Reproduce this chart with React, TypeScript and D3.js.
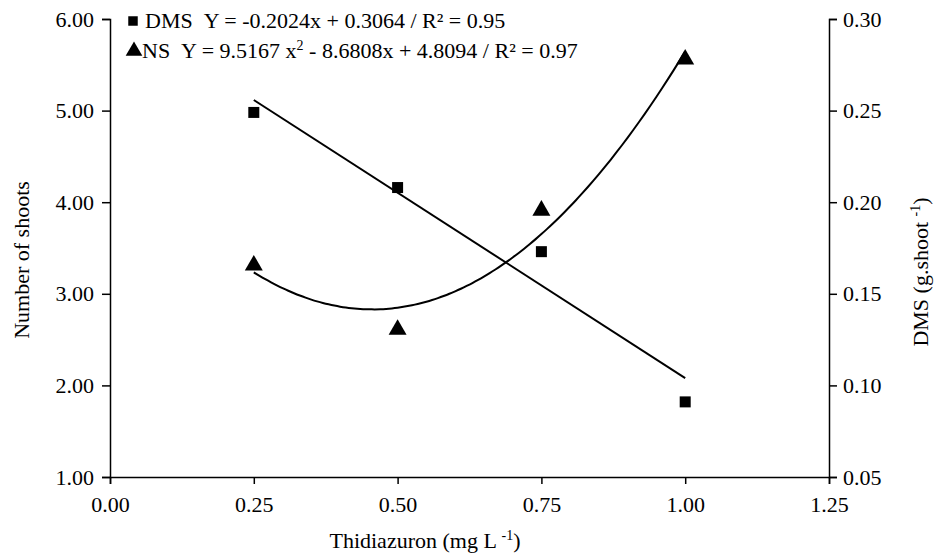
import React, { useEffect, useRef } from "react";
import * as d3 from "d3";

// doses of thidiazuron (mg L-1)
const doses = [0.25, 0.5, 0.75, 1.0];
// number of shoots (left axis)
const nsValues = [3.31, 2.61, 3.91, 5.56];
// dry mass per shoot (right axis)
const dmsValues = [0.249, 0.208, 0.173, 0.091];

// fitted equations printed in the legend
const nsCoef = [9.5167, -8.6808, 4.8094]; // a x^2 + b x + c
const dmsCoef = [-0.2024, 0.3064]; // a x + b

const xTicks = [0, 0.25, 0.5, 0.75, 1.0, 1.25];
const leftTicks = [1, 2, 3, 4, 5, 6];
const rightTicks = [0.05, 0.1, 0.15, 0.2, 0.25, 0.3];

const W = 935;
const H = 553;

export default function App() {
  const svgRef = useRef<SVGSVGElement>(null);

  useEffect(() => {
    const svg = d3.select(svgRef.current);
    svg.selectAll("*").remove();

    const m = { left: 110, right: 106, top: 19, bottom: 76 };
    const font = "'Liberation Serif', 'Times New Roman', Times, 'DejaVu Serif', serif";
    const fs = 22;

    const x = d3.scaleLinear().domain([0, 1.25]).range([m.left, W - m.right]);
    const yL = d3.scaleLinear().domain([1, 6]).range([H - m.bottom, m.top]);
    const yR = d3.scaleLinear().domain([0.05, 0.3]).range([H - m.bottom, m.top]);

    const styleAxis = (g: any) => {
      g.attr("font-family", null).attr("font-size", null);
      g.selectAll(".domain").attr("stroke", "#000").attr("stroke-width", 1.5);
      g.selectAll(".tick line").attr("stroke", "#000").attr("stroke-width", 1.5);
      g.selectAll(".tick text").attr("fill", "#000");
    };

    const root = svg
      .append("g")
      .style("font-family", font)
      .style("font-size", fs + "px");

    // X axis
    root
      .append("g")
      .attr("transform", `translate(0,${H - m.bottom})`)
      .call(
        d3
          .axisBottom(x)
          .tickValues(xTicks)
          .tickFormat(d3.format(".2f"))
          .tickSizeOuter(0)
          .tickSize(7)
          .tickPadding(12)
      )
      .call(styleAxis);

    // Left axis
    root
      .append("g")
      .attr("transform", `translate(${m.left},0)`)
      .call(
        d3
          .axisLeft(yL)
          .tickValues(leftTicks)
          .tickFormat(d3.format(".2f"))
          .tickSizeOuter(0)
          .tickSize(8)
          .tickPadding(8)
      )
      .call(styleAxis);

    // Right axis
    root
      .append("g")
      .attr("transform", `translate(${W - m.right},0)`)
      .call(
        d3
          .axisRight(yR)
          .tickValues(rightTicks)
          .tickFormat(d3.format(".2f"))
          .tickSizeOuter(0)
          .tickSize(8)
          .tickPadding(6)
      )
      .call(styleAxis);

    // Axis titles
    root
      .append("text")
      .attr("x", 425)
      .attr("y", H - 5)
      .attr("text-anchor", "middle")
      .html('Thidiazuron (mg L <tspan dy="-8" font-size="14">-1</tspan><tspan dy="8">)</tspan>');

    root
      .append("text")
      .attr("transform", `translate(29,260) rotate(-90)`)
      .attr("text-anchor", "middle")
      .text("Number of shoots");

    root
      .append("text")
      .attr("transform", `translate(928,272) rotate(-90)`)
      .attr("text-anchor", "middle")
      .html('DMS (g.shoot <tspan dy="-8" font-size="14">-1</tspan><tspan dy="8">)</tspan>');

    // Fitted curves
    const fitXs = d3.range(0.25, 1.0001, 0.01);
    const nsLine = d3
      .line<number>()
      .x((d) => x(d))
      .y((d) => yL(nsCoef[0] * d * d + nsCoef[1] * d + nsCoef[2]))
      .curve(d3.curveMonotoneX);
    const dmsLine = d3
      .line<number>()
      .x((d) => x(d))
      .y((d) => yR(dmsCoef[0] * d + dmsCoef[1]));

    root
      .append("path")
      .datum(fitXs)
      .attr("d", nsLine)
      .attr("fill", "none")
      .attr("stroke", "#000")
      .attr("stroke-width", 2);
    root
      .append("path")
      .datum([0.25, 1.0])
      .attr("d", dmsLine)
      .attr("fill", "none")
      .attr("stroke", "#000")
      .attr("stroke-width", 2);

    // markers
    const sq = d3.symbol().type(d3.symbolSquare).size(121);
    const tri = d3.symbol().type(d3.symbolTriangle).size(140);

    root
      .selectAll(".dms")
      .data(doses)
      .enter()
      .append("path")
      .attr("d", sq)
      .attr("transform", (d, i) => `translate(${x(d)},${yR(dmsValues[i])})`)
      .attr("fill", "#000");

    root
      .selectAll(".ns")
      .data(doses)
      .enter()
      .append("path")
      .attr("d", tri)
      .attr("transform", (d, i) => `translate(${x(d)},${yL(nsValues[i])})`)
      .attr("fill", "#000");

    // legend
    root
      .append("path")
      .attr("d", d3.symbol().type(d3.symbolSquare).size(90))
      .attr("transform", "translate(133,21)");
    root
      .append("text")
      .attr("x", 145)
      .attr("y", 28)
      .html("DMS&#160;&#160;Y = -0.2024x + 0.3064 / R² = 0.95");
    root
      .append("path")
      .attr("d", d3.symbol().type(d3.symbolTriangle).size(120))
      .attr("transform", "translate(134,51)");
    root
      .append("text")
      .attr("x", 142)
      .attr("y", 58)
      .html(
        'NS&#160;&#160;Y = 9.5167 x<tspan dy="-8" font-size="14">2</tspan><tspan dy="8"> - 8.6808x + 4.8094 / R² = 0.97</tspan>'
      );
  }, []);

  return (
    <svg
      ref={svgRef}
      width={W}
      height={H}
      style={{ display: "block", position: "absolute", left: 0, top: 0, background: "#fff" }}
    />
  );
}
